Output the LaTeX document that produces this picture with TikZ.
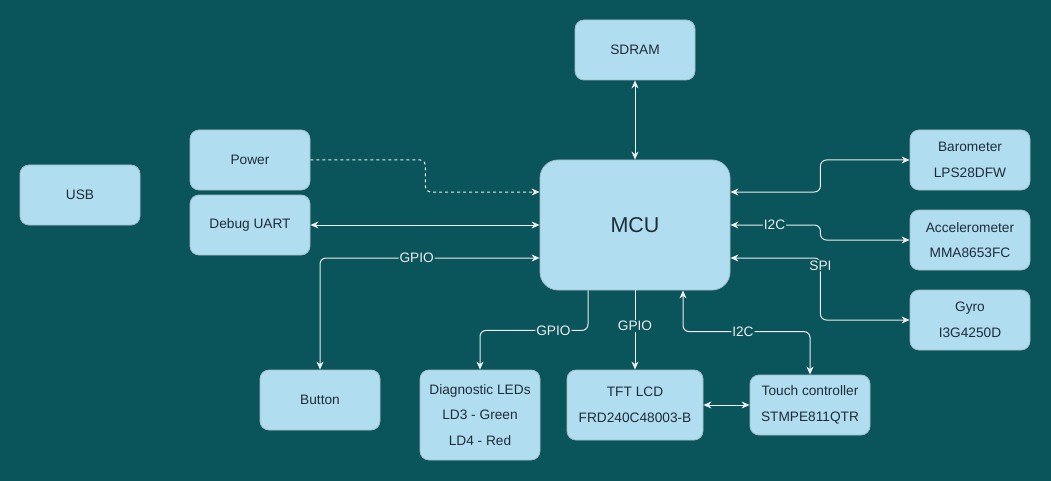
\documentclass[tikz,border=0pt]{standalone}
\usepackage{fontspec}
\setmainfont{Liberation Sans}
\usetikzlibrary{arrows.meta}
\definecolor{bg}{HTML}{0A545B}
\definecolor{boxfill}{HTML}{B1DDF0}
\definecolor{boxline}{HTML}{A3BCC8}
\definecolor{txt}{HTML}{1E2D3A}
\definecolor{wire}{HTML}{EEEEEE}
\begin{document}
\begin{tikzpicture}[x=1pt,y=-1pt,
  blk/.style={draw=boxline, fill=boxfill, rounded corners=9pt, line width=0.8pt,
    text=txt, font=\fontsize{13.7}{25.5}\selectfont, align=center, inner sep=0pt,
    minimum width=120pt, minimum height=60pt},
  tip/.tip={Stealth[length=8pt,width=7pt,inset=2.5pt]},
  wirebase/.style={draw=wire, line width=1pt, rounded corners=6pt},
  uni/.style={wirebase, -tip},
  bi/.style={wirebase, tip-tip},
  lbl/.style={fill=bg, text=wire, font=\fontsize{13.7}{16}\selectfont, inner sep=1pt}
]
\fill[bg] (0,0) rectangle (1051,481);
\useasboundingbox (0,0) rectangle (1051,481);

% blocks
\node[blk] (sdram) at (635,50) {SDRAM};
\node[blk] (usb) at (80,195) {USB};
\node[blk] (power) at (250,160) {Power};
\node[blk] (debug) at (250,225) {Debug UART};
\node[blk, minimum width=190pt, minimum height=130pt, rounded corners=18pt,
  font=\fontsize{21.5}{25}\selectfont] (mcu) at (635,225) {MCU};
\node[blk] (baro) at (970,160) {Barometer\\LPS28DFW};
\node[blk] (accel) at (970,240) {Accelerometer\\MMA8653FC};
\node[blk] (gyro) at (970,320) {Gyro\\I3G4250D};
\node[blk] (button) at (320,400) {Button};
\node[blk, minimum height=90pt] (leds) at (480,415) {Diagnostic LEDs\\LD3 - Green\\LD4 - Red};
\node[blk, minimum width=136pt, minimum height=70pt] (tft) at (635,405) {TFT LCD\\FRD240C48003-B};
\node[blk] (touch) at (810,405) {Touch controller\\STMPE811QTR};

% connectors
\draw[bi] (sdram.south) -- (mcu.north);
\draw[uni, dash pattern=on 3pt off 3pt, rounded corners=5pt]
  (power.east) -- ++(115,0) |- ([yshift=33pt]mcu.west);
\draw[bi] (debug.east) -- (mcu.west);
\draw[bi] (button.north) |- node[lbl,pos=0.72]{GPIO} ([yshift=-33pt]mcu.west);

\draw[bi] ([yshift=33pt]mcu.east) -- ++(90,0) |- (baro.west);
\draw[bi] (mcu.east) -- node[lbl,pos=0.49]{I2C} ++(90,0) |- (accel.west);
\draw[bi] ([yshift=-33pt]mcu.east) -- ++(90,0) |- node[lbl,pos=0.06]{SPI} (gyro.west);

\draw[uni] ([xshift=-47pt]mcu.south) -- ++(0,40) -| node[lbl,pos=0.16]{GPIO} (leds.north);
\draw[uni] (mcu.south) -- node[lbl,pos=0.45]{GPIO} (tft.north);
\draw[bi] (touch.north) -- ++(0,-43) -| node[lbl,pos=0.264]{I2C} ([xshift=48pt]mcu.south);
\draw[bi] (tft.east) -- (touch.west);
\end{tikzpicture}
\end{document}
